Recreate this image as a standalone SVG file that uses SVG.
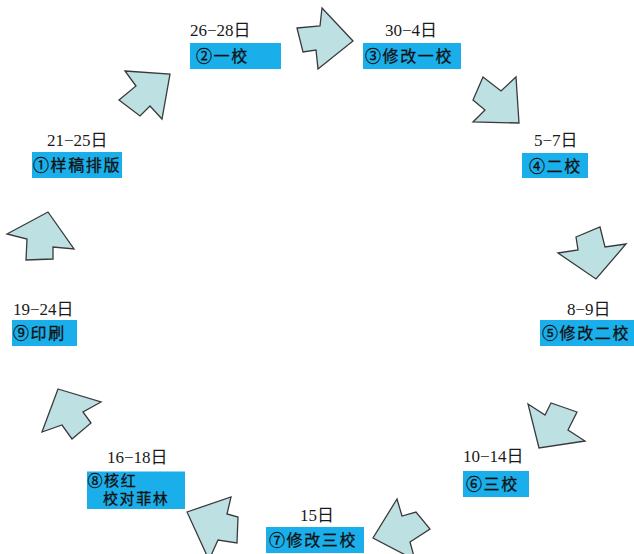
<svg xmlns="http://www.w3.org/2000/svg" width="634" height="554" viewBox="0 0 634 554">
<style>
.arrow{fill:#bde0e3;stroke:#3a3a3a;stroke-width:1.3;stroke-linejoin:miter}
.box{fill:#1aafea}
.date{font-family:"Liberation Serif","Noto Sans CJK SC",serif;font-size:17px;fill:#1a1a1a}
.lbl{font-family:"Noto Sans CJK SC","Noto Sans CJK JP",sans-serif;font-size:16px;letter-spacing:1.6px;fill:#111;stroke:#111;stroke-width:0.3}
.lbl2{font-size:15px}
</style>
<rect width="634" height="554" fill="#ffffff"/>
<g id="connectors">
<polygon class="arrow" points="125,71 170,74 162,119 150,106 140,116 119,100 136,86"/>
<polygon class="arrow" points="297,28 320,26 322,8 353,41 318,69 316,50 303,52"/>
<polygon class="arrow" points="483,77 501,91 516,77 519,123 473,122 485,110 473,100"/>
<polygon class="arrow" points="576,237 600,227 605,247 626,244 596,279 558,253 578,250"/>
<polygon class="arrow" points="528,404 545,415 551,403 577,412 568,430 585,441 539,448"/>
<polygon class="arrow" points="397,499 402,516 416,512 430,529 410,542 415,560 373,538"/>
<polygon class="arrow" points="187,512 231,497 227,514 238,517 237,543 218,540 209,560"/>
<polygon class="arrow" points="58,389 101,402 83,412 91,423 72,439 62,425 42,432"/>
<polygon class="arrow" points="7,234 48,212 74,249 53,247 53,259 26,260 27,239"/>
</g>
<g id="node1">
<text class="date" x="47" y="146">21−25日</text>
<rect class="box" x="32" y="152" width="90" height="26"/>
<text class="lbl" x="33" y="170.5">①样稿排版</text>
</g>
<g id="node2">
<text class="date" x="190" y="36">26−28日</text>
<rect class="box" x="190" y="43" width="91" height="26"/>
<text class="lbl" x="196" y="62">②一校</text>
</g>
<g id="node3">
<text class="date" x="385" y="36">30−4日</text>
<rect class="box" x="363" y="43" width="98" height="26"/>
<text class="lbl" x="365" y="62">③修改一校</text>
</g>
<g id="node4">
<text class="date" x="534" y="146">5−7日</text>
<rect class="box" x="522" y="153" width="66" height="25"/>
<text class="lbl" x="529" y="171.5">④二校</text>
</g>
<g id="node5">
<text class="date" x="567" y="315">8−9日</text>
<rect class="box" x="540" y="320" width="94" height="26"/>
<text class="lbl" x="542" y="339">⑤修改二校</text>
</g>
<g id="node6">
<text class="date" x="463" y="462">10−14日</text>
<rect class="box" x="463" y="471" width="66" height="26"/>
<text class="lbl" x="466" y="490">⑥三校</text>
</g>
<g id="node7">
<text class="date" x="300" y="521">15日</text>
<rect class="box" x="266" y="527" width="98" height="26"/>
<text class="lbl" x="269" y="546">⑦修改三校</text>
</g>
<g id="node8">
<text class="date" x="107" y="462.5">16−18日</text>
<rect class="box" x="87" y="471.5" width="98" height="37.5"/>
<text class="lbl lbl2" x="87.5" y="486">⑧核红</text>
<text class="lbl lbl2" x="103" y="504">校对菲林</text>
</g>
<g id="node9">
<text class="date" x="13" y="315">19−24日</text>
<rect class="box" x="12" y="320" width="65" height="26"/>
<text class="lbl" x="13" y="339">⑨印刷</text>
</g>
</svg>
